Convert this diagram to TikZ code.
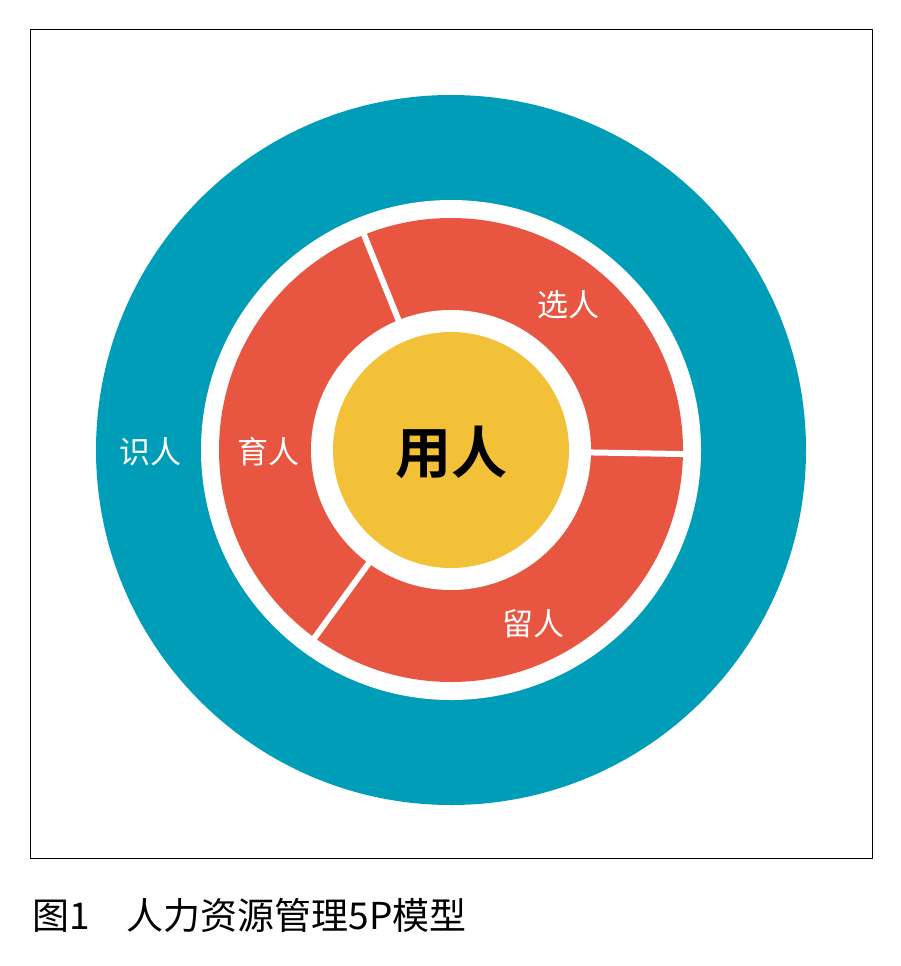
\documentclass[tikz,border=0pt]{standalone}
\usepackage{fontspec}
\usetikzlibrary{calc}
\newfontfamily\cjk{Noto Sans CJK SC}
\newfontfamily\cjkb{Noto Sans CJK SC Bold}
\definecolor{teal5}{HTML}{009DB9}
\definecolor{red5}{HTML}{E85540}
\definecolor{yel5}{HTML}{F3C138}
\begin{document}
\begin{tikzpicture}[x=1pt,y=-1pt,
  lbl/.style={text=white,font=\cjk\fontsize{31}{31}\selectfont,inner sep=0},
  divider/.style={white,line width=6pt}]
\useasboundingbox (0,0) rectangle (900,966);
\fill[white] (0,0) rectangle (900,966);
\draw[line width=1pt] (30,30) rectangle (872,858);
\coordinate (c) at (451,450);
\fill[teal5] (c) circle[radius=355];
\fill[white] (c) circle[radius=250];
\fill[red5] (c) circle[radius=232];
\fill[white] (c) circle[radius=140];
\fill[yel5] (c) circle[radius=118];
\foreach \a in {-112,1,126} \draw[divider] ($(c)+(\a:138)$) -- ($(c)+(\a:234)$);
\node[lbl] (shi) at (150,452) {识人};
\node[lbl] (yu) at (268,452) {育人};
\node[lbl] (xuan) at (568,305) {选人};
\node[lbl] (liu) at (533,624) {留人};
\node[font=\cjkb\fontsize{56}{56}\selectfont,inner sep=0] (yong) at (451,452) {用人};
\node[font=\cjk\fontsize{37}{37}\selectfont,inner sep=0,anchor=west] (cap) at (32,915) {图1\hspace{1em}人力资源管理5P模型};
\end{tikzpicture}
\end{document}
